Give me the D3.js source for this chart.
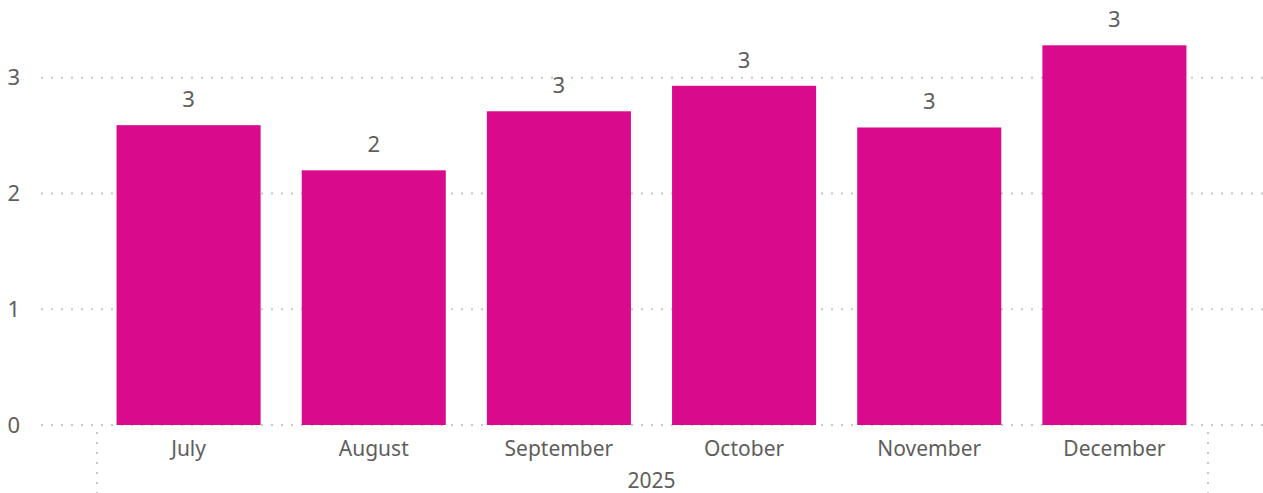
<!DOCTYPE html>
<html lang="en">
<head>
	<meta charset="utf-8">
	<title>Monthly values 2025</title>
	<script src="https://cdn.jsdelivr.net/npm/d3@7"></script>
	<style>
		body { margin: 0; background: #fff; }
		svg { display: block; font-family: "Segoe UI", "Noto Sans", sans-serif; }
		.lbl { fill: #605e5c; }
	</style>
</head>
<body>
<script>
	// chart data
	var months = ["July", "August", "September", "October", "November", "December"];
	var values = [2.59, 2.2, 2.71, 2.93, 2.57, 3.28];
	var yTicks = [0, 1, 2, 3];
	var yearLabel = "2025";

	var w = 1263, h = 493;

	var svg = d3.select("body").append("svg")
		.attr("width", w)
		.attr("height", h);

	var x = d3.scaleBand()
		.domain(months)
		.range([96, 1207])
		.paddingInner(0.222)
		.paddingOuter(0.111);

	var y = d3.scaleLinear()
		.domain([0, 3])
		.range([425, 77.7]);

	// dotted gridlines
	svg.selectAll("line.grid")
		.data(yTicks)
		.enter()
		.append("line")
		.attr("class", "grid")
		.attr("x1", 41)
		.attr("x2", w)
		.attr("y1", function(d) { return y(d); })
		.attr("y2", function(d) { return y(d); })
		.style("stroke", "#c8c8c8")
		.style("stroke-width", 2)
		.style("stroke-dasharray", "2,8");

	// y axis labels
	svg.selectAll("text.ytick")
		.data(yTicks)
		.enter()
		.append("text")
		.attr("class", "lbl ytick")
		.attr("x", 20)
		.attr("y", function(d) { return y(d); })
		.attr("dy", "0.35em")
		.attr("text-anchor", "end")
		.style("font-size", "22px")
		.text(function(d) { return d; });

	// vertical dotted separators for the year group
	svg.selectAll("line.sep")
		.data(x.range())
		.enter()
		.append("line")
		.attr("class", "sep")
		.attr("x1", function(d) { return d + 1; })
		.attr("x2", function(d) { return d + 1; })
		.attr("y1", 432)
		.attr("y2", h)
		.style("stroke", "#c8c8c8")
		.style("stroke-width", 2)
		.style("stroke-dasharray", "2,8");

	// bars
	svg.selectAll("rect")
		.data(values)
		.enter()
		.append("rect")
		.attr("x", function(d, i) { return x(months[i]); })
		.attr("width", x.bandwidth())
		.attr("y", function(d) { return y(d); })
		.attr("height", function(d) { return y(0) - y(d); })
		.style("fill", "#d90b8c");

	// data labels (rounded)
	svg.selectAll("text.val")
		.data(values)
		.enter()
		.append("text")
		.attr("class", "lbl val")
		.attr("x", function(d, i) { return x(months[i]) + x.bandwidth() / 2; })
		.attr("y", function(d) { return y(d) - 18; })
		.attr("text-anchor", "middle")
		.style("font-size", "22px")
		.text(function(d) { return Math.round(d); });

	// month labels
	svg.selectAll("text.month")
		.data(months)
		.enter()
		.append("text")
		.attr("class", "lbl month")
		.attr("x", function(d) { return x(d) + x.bandwidth() / 2; })
		.attr("y", 456)
		.attr("text-anchor", "middle")
		.style("font-size", "21px")
		.text(function(d) { return d; });

	// year label
	svg.append("text")
		.attr("class", "lbl")
		.attr("x", (x.range()[0] + x.range()[1]) / 2)
		.attr("y", 488)
		.attr("text-anchor", "middle")
		.style("font-size", "21px")
		.text(yearLabel);
</script>
</body>
</html>
